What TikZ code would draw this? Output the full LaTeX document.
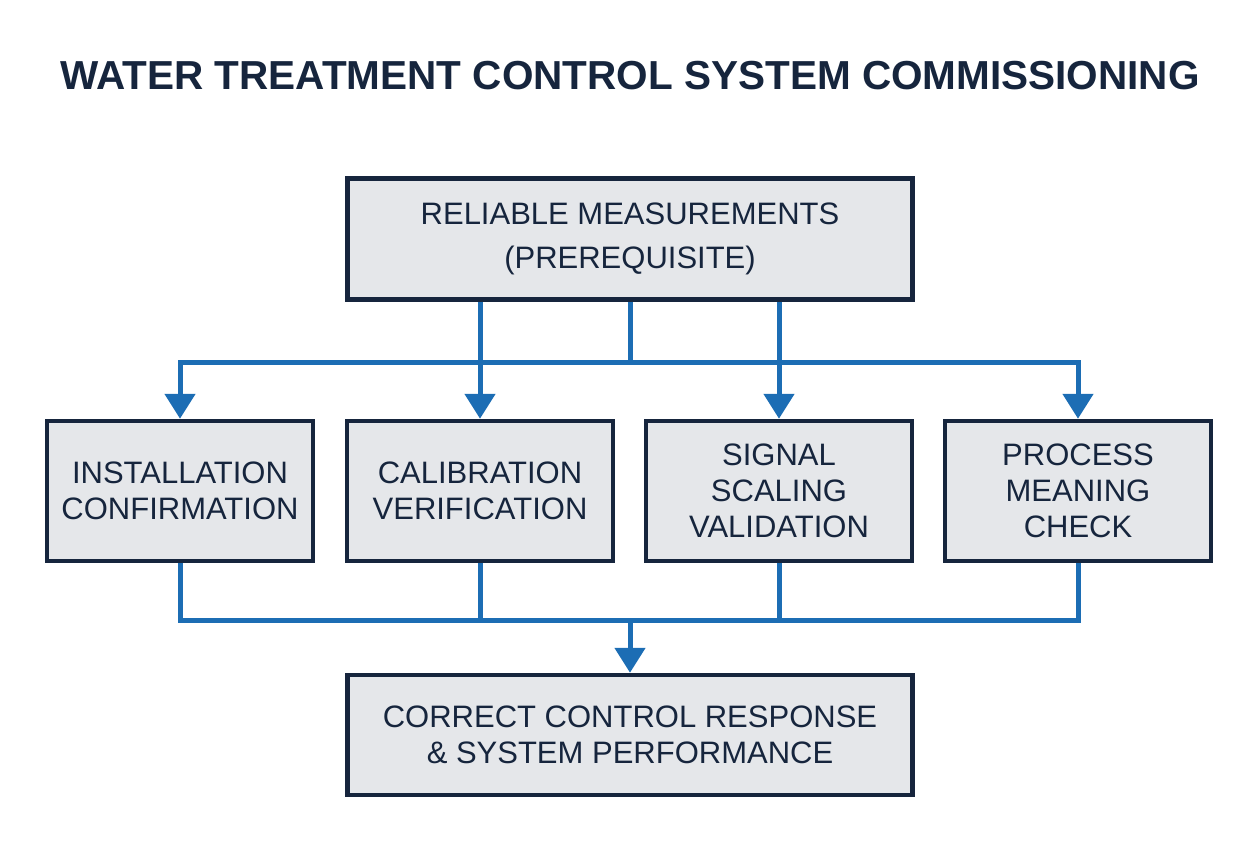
\documentclass[tikz,border=0pt]{standalone}
\usepackage{fontspec}
\setmainfont{Liberation Sans}
\usetikzlibrary{arrows.meta}
\definecolor{navy}{HTML}{16253D}
\definecolor{boxgray}{HTML}{E5E7EA}
\definecolor{flowblue}{HTML}{1C6DB4}
\begin{document}
\begin{tikzpicture}[x=1pt,y=-1pt,
  box/.style={draw=navy,line width=4.5pt,fill=boxgray,text=navy,align=center,inner sep=0pt},
  bigbox/.style={box,minimum width=565pt,minimum height=121pt,font=\fontsize{31}{44}\selectfont},
  smallbox/.style={box,minimum width=266pt,minimum height=140pt,font=\fontsize{31}{36}\selectfont},
  flow/.style={draw=flowblue,line width=5pt},
  tip/.style={-{Triangle[width=30pt,length=25pt]}}]
\useasboundingbox (0,0) rectangle (1259,845);
\node [text=navy,font=\fontsize{40.5}{44}\selectfont\bfseries] (title) at (630,76) {WATER TREATMENT CONTROL SYSTEM COMMISSIONING};
\node [bigbox] (prereq) at (630,239) {RELIABLE MEASUREMENTS\\(PREREQUISITE)};
\node [smallbox] (install) at (180,491) {INSTALLATION\\CONFIRMATION};
\node [smallbox] (calib) at (480,491) {CALIBRATION\\VERIFICATION};
\node [smallbox] (scaling) at (779,491) {SIGNAL\\SCALING\\VALIDATION};
\node [smallbox] (meaning) at (1078,491) {PROCESS\\MEANING\\CHECK};
\node [bigbox,minimum height=120pt,font=\fontsize{31}{36}\selectfont] (response) at (630,735) {CORRECT CONTROL RESPONSE\\\& SYSTEM PERFORMANCE};
\coordinate (topbus) at (630,362);
\coordinate (lowbus) at (630,620);
% prerequisite to the four checks
\draw [flow] (prereq.south) -- (topbus);
\draw [flow,{Triangle[width=30pt,length=25pt]}-{Triangle[width=30pt,length=25pt]}] (install.north) |- (topbus) -| (meaning.north);
\draw [flow,tip] (prereq.south -| calib.north) -- (calib.north);
\draw [flow,tip] (prereq.south -| scaling.north) -- (scaling.north);
% checks to control response
\draw [flow] (install.south) |- (lowbus) -| (meaning.south);
\draw [flow] (calib.south) -- (calib.south |- lowbus);
\draw [flow] (scaling.south) -- (scaling.south |- lowbus);
\draw [flow,tip] (lowbus) -- (response.north);
\end{tikzpicture}
\end{document}
